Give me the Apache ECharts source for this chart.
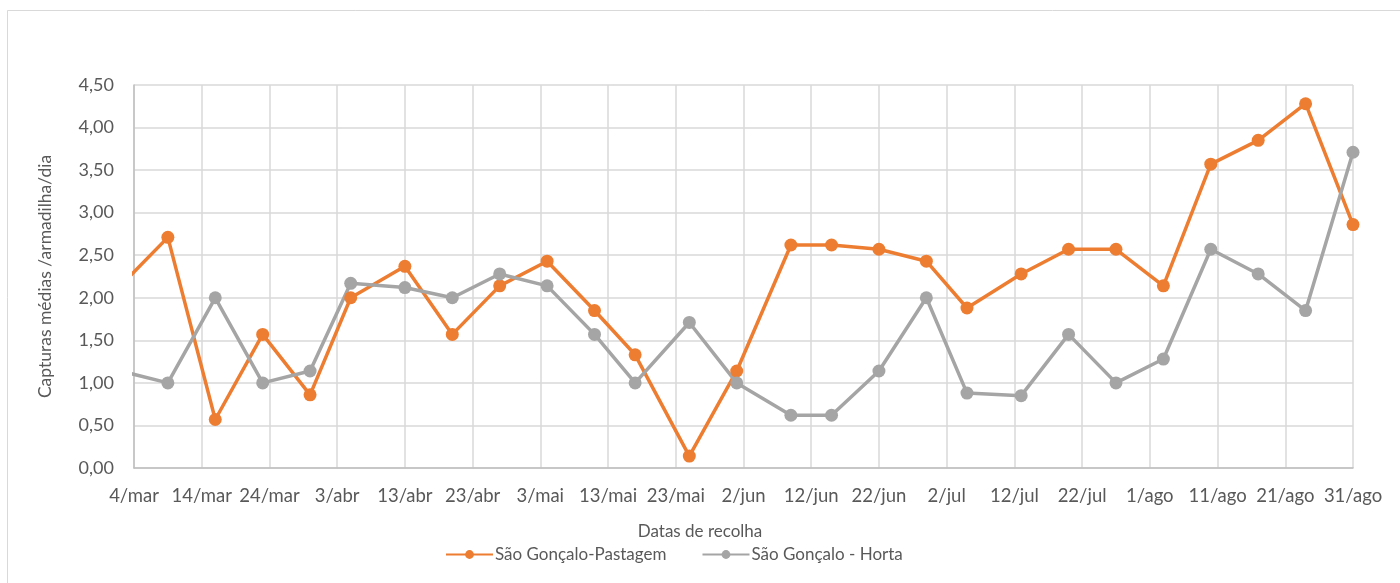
<!DOCTYPE html>
<html>
<head>
<meta charset="utf-8">
<script src="https://cdn.jsdelivr.net/npm/echarts@6/dist/echarts.min.js"></script>
<style>html,body{margin:0;padding:0;background:#fff}#c{width:1400px;height:583px}</style>
</head>
<body>
<div id="c"></div>
<script>
// Collection dates (the first one lies before the axis start and is clipped)
const dates = ['2019-03-02','2019-03-09','2019-03-16','2019-03-23','2019-03-30','2019-04-05','2019-04-13','2019-04-20','2019-04-27','2019-05-04','2019-05-11','2019-05-17','2019-05-25','2019-06-01','2019-06-09','2019-06-15','2019-06-22','2019-06-29','2019-07-05','2019-07-13','2019-07-20','2019-07-27','2019-08-03','2019-08-10','2019-08-17','2019-08-24','2019-08-31'];
const pastagem = [2.14,2.71,0.57,1.57,0.86,2.00,2.37,1.57,2.14,2.43,1.85,1.33,0.14,1.14,2.62,2.62,2.57,2.43,1.88,2.28,2.57,2.57,2.14,3.57,3.85,4.28,2.86];
const horta    = [1.14,1.00,2.00,1.00,1.14,2.17,2.12,2.00,2.28,2.14,1.57,1.00,1.71,1.00,0.62,0.62,1.14,2.00,0.88,0.85,1.57,1.00,1.28,2.57,2.28,1.85,3.71];
const xTickLabels = ['4/mar','14/mar','24/mar','3/abr','13/abr','23/abr','3/mai','13/mai','23/mai','2/jun','12/jun','22/jun','2/jul','12/jul','22/jul','1/ago','11/ago','21/ago','31/ago'];
const seriesNames = ['São Gonçalo-Pastagem','São Gonçalo - Horta'];
const axisStart = '2019-03-04';

const DAY = 86400000;
const t0 = Date.parse(axisStart);
const dayOf = d => Math.round((Date.parse(d) - t0) / DAY);
const days = dates.map(dayOf);

const FONT = 'Lato, "Open Sans", sans-serif';
const TXT = '#595959';

const chart = echarts.init(document.getElementById('c'), null, {renderer:'canvas'});
chart.setOption({
  animation:false,
  backgroundColor:'#fff',
  textStyle:{fontFamily:FONT},
  graphic:[{type:'rect',shape:{x:7.5,y:10.5,width:1420,height:620},style:{fill:'none',stroke:'#d9d9d9',lineWidth:1},silent:true,z:-1}],
  title:{text:'Datas de recolha',left:'center',top:518,textStyle:{fontFamily:FONT,fontSize:17,fontWeight:'normal',color:TXT}},
  legend:{
    left:440, top:541, itemWidth:47, itemHeight:11, itemGap:35,
    textStyle:{fontFamily:FONT,fontSize:17,color:TXT,padding:[0,0,0,-3]},
    data:seriesNames
  },
  grid:{left:134,right:47,top:85,bottom:115,containLabel:false},
  xAxis:{
    type:'value', min:0, max:180, interval:10,
    axisLine:{show:true,lineStyle:{color:'#bfbfbf',width:1.5}},
    axisTick:{show:false},
    splitLine:{show:true,lineStyle:{color:'#d9d9d9',width:1.5}},
    axisLabel:{color:TXT,fontSize:18.5,fontFamily:FONT,margin:19,
      formatter:v=>xTickLabels[Math.round(v/10)] || ''}
  },
  yAxis:{
    type:'value', min:0, max:4.5, interval:0.5,
    name:'Capturas médias /armadilha/dia', nameLocation:'middle', nameGap:80, nameRotate:90,
    nameTextStyle:{color:TXT,fontSize:17.5,fontFamily:FONT},
    axisLine:{show:true,lineStyle:{color:'#bfbfbf',width:1.5}},
    axisTick:{show:false},
    splitLine:{show:true,lineStyle:{color:'#d9d9d9',width:1.5}},
    axisLabel:{color:TXT,fontSize:18,fontFamily:FONT,margin:20,
      formatter:v=>v.toFixed(2).replace('.',',')}
  },
  series:[
    {name:seriesNames[0],type:'line',clip:true,data:days.map((d,i)=>[d,pastagem[i]]),
     symbol:'circle',symbolSize:13,itemStyle:{color:'#ED7D31'},lineStyle:{color:'#ED7D31',width:3.5}},
    {name:seriesNames[1],type:'line',clip:true,data:days.map((d,i)=>[d,horta[i]]),
     symbol:'circle',symbolSize:13,itemStyle:{color:'#A5A5A5'},lineStyle:{color:'#A5A5A5',width:3.5}}
  ]
});
</script>
</body>
</html>
